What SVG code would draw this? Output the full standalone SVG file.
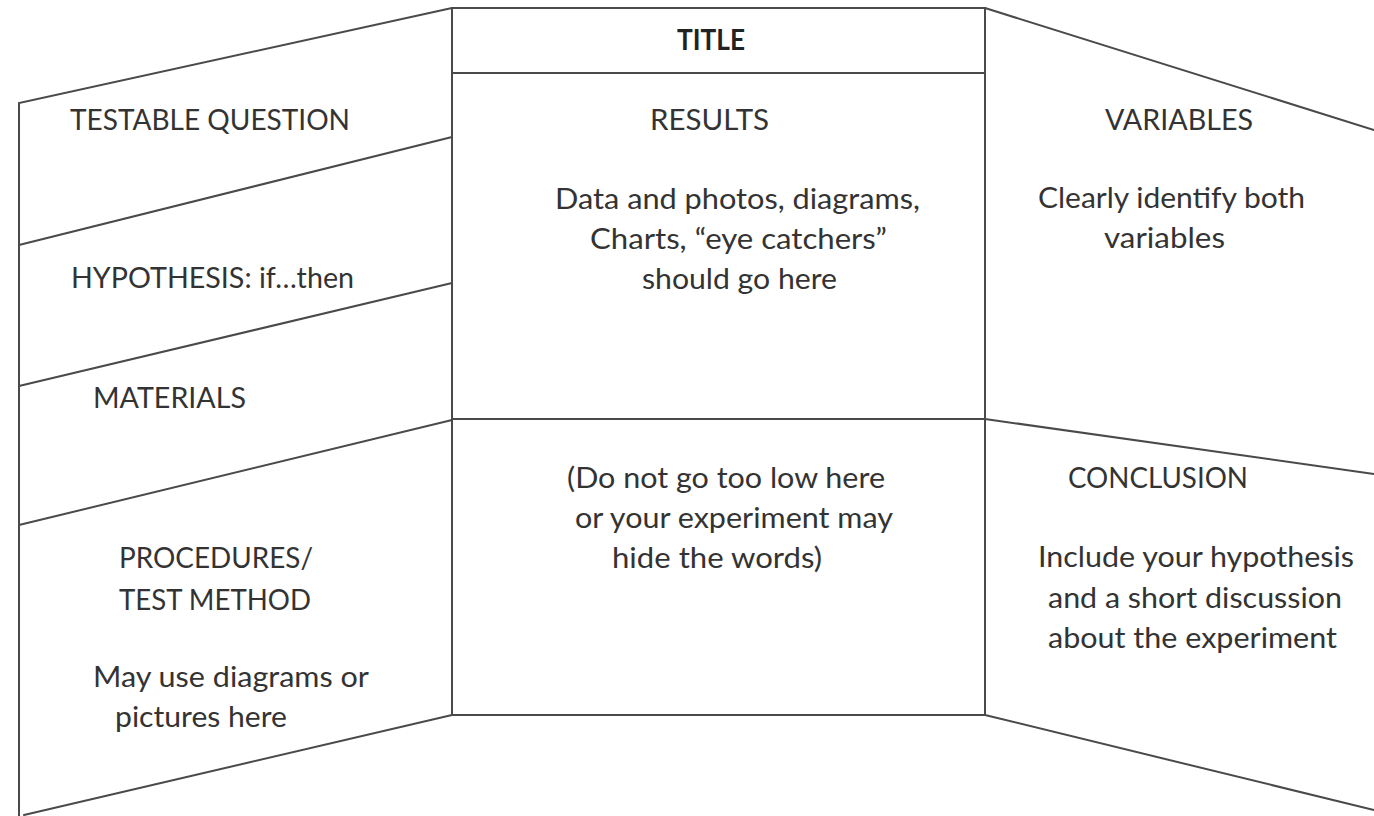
<svg xmlns="http://www.w3.org/2000/svg" width="1374" height="816" viewBox="0 0 1374 816">
<style>
.ln{stroke:#4a4a4a;stroke-width:2;fill:none;stroke-linecap:round}
.t{font-family:Lato,"Open Sans","Liberation Sans",sans-serif;font-size:28px;fill:#333}
.b{font-weight:bold;fill:#222}
</style>
<rect width="1374" height="816" fill="#fff"/>
<g id="left-panel">
<path class="ln" d="M19,816 L19,103 L452,8"/>
<path class="ln" d="M19,245 L452,137"/>
<path class="ln" d="M19,386 L452,283"/>
<path class="ln" d="M19,525 L452,420"/>
<path class="ln" d="M24,815 L452,715"/>
</g>
<g id="center-panel">
<rect class="ln" x="452" y="8" width="533" height="707"/>
<line class="ln" x1="452" y1="73" x2="985" y2="73"/>
<line class="ln" x1="452" y1="419" x2="985" y2="419"/>
</g>
<g id="right-panel">
<path class="ln" d="M985,8 L1374,130"/>
<path class="ln" d="M985,419 L1374,474"/>
<path class="ln" d="M985,715 L1374,810"/>
</g>
<g id="title"><text class="t b" x="677" y="50" textLength="68" lengthAdjust="spacingAndGlyphs">TITLE</text></g>
<g id="testable-question"><text class="t" x="70" y="130" textLength="280" lengthAdjust="spacingAndGlyphs">TESTABLE QUESTION</text></g>
<g id="hypothesis"><text class="t" x="71" y="288" textLength="283" lengthAdjust="spacingAndGlyphs">HYPOTHESIS: if…then</text></g>
<g id="materials"><text class="t" x="93" y="408" textLength="153" lengthAdjust="spacingAndGlyphs">MATERIALS</text></g>
<g id="procedures">
<text class="t" x="119" y="568" textLength="194" lengthAdjust="spacingAndGlyphs">PROCEDURES/</text>
<text class="t" x="119" y="610" textLength="192" lengthAdjust="spacingAndGlyphs">TEST METHOD</text>
<text class="t" x="93" y="687" textLength="276" lengthAdjust="spacingAndGlyphs">May use diagrams or</text>
<text class="t" x="115" y="727" textLength="172" lengthAdjust="spacingAndGlyphs">pictures here</text>
</g>
<g id="results">
<text class="t" x="650" y="130" textLength="119" lengthAdjust="spacingAndGlyphs">RESULTS</text>
<text class="t" x="555" y="209" textLength="365" lengthAdjust="spacingAndGlyphs">Data and photos, diagrams,</text>
<text class="t" x="590" y="249" textLength="297" lengthAdjust="spacingAndGlyphs">Charts, “eye catchers”</text>
<text class="t" x="642" y="289" textLength="195" lengthAdjust="spacingAndGlyphs">should go here</text>
</g>
<g id="results-lower">
<text class="t" x="567" y="488" textLength="318" lengthAdjust="spacingAndGlyphs">(Do not go too low here</text>
<text class="t" x="575" y="528" textLength="318" lengthAdjust="spacingAndGlyphs">or your experiment may</text>
<text class="t" x="612" y="568" textLength="210" lengthAdjust="spacingAndGlyphs">hide the words)</text>
</g>
<g id="variables">
<text class="t" x="1105" y="130" textLength="148" lengthAdjust="spacingAndGlyphs">VARIABLES</text>
<text class="t" x="1038" y="208" textLength="267" lengthAdjust="spacingAndGlyphs">Clearly identify both</text>
<text class="t" x="1104" y="248" textLength="121" lengthAdjust="spacingAndGlyphs">variables</text>
</g>
<g id="conclusion">
<text class="t" x="1068" y="488" textLength="180" lengthAdjust="spacingAndGlyphs">CONCLUSION</text>
<text class="t" x="1038" y="567" textLength="316" lengthAdjust="spacingAndGlyphs">Include your hypothesis</text>
<text class="t" x="1048" y="608" textLength="294" lengthAdjust="spacingAndGlyphs">and a short discussion</text>
<text class="t" x="1048" y="648" textLength="289" lengthAdjust="spacingAndGlyphs">about the experiment</text>
</g>
</svg>
